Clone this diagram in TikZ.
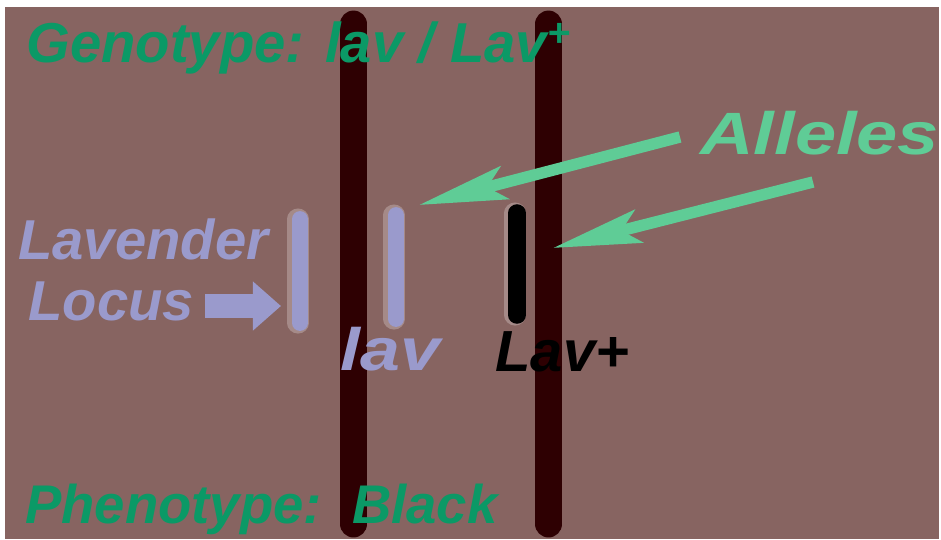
\documentclass[tikz,border=0pt]{standalone}
\usepackage{fontspec}
\setmainfont{Liberation Sans}
\usetikzlibrary{arrows.meta}
\definecolor{bgbrown}{HTML}{876461}
\definecolor{chromred}{HTML}{2E0002}
\definecolor{genogreen}{HTML}{0B9966}
\definecolor{allelegreen}{HTML}{5FCC96}
\definecolor{lavcol}{HTML}{9A9ACC}
\begin{document}
\begin{tikzpicture}[x=0.02cm,y=-0.02cm,
    script/.style={font=\fontsize{32}{36}\selectfont\bfseries\itshape,inner sep=0pt,anchor=base west},
    chrom/.style={line width=15.3pt,line cap=round,color=chromred},
    locus/.style={line width=9pt,line cap=round},
    halo/.style={line width=12pt,line cap=round,color=white,opacity=0.25},
    pointer/.style={line width=6.5pt,color=allelegreen,-{Stealth[length=50pt,width=19pt,inset=10pt]}}]
  \useasboundingbox (0,0) rectangle (941,539);
  \fill[white] (0,0) rectangle (941,539);
  \fill[bgbrown] (5,7) rectangle (939,539);
  % chromosomes
  \draw[chrom] (353.5,24) -- (353.5,524);
  \draw[chrom] (548.5,24) -- (548.5,524);
  % locus bars
  \draw[halo] (298,219) -- (298,323);
  \draw[halo] (394,215) -- (394,319);
  \draw[halo] (515,213) -- (515,315);
  \draw[locus,lavcol] (300,219) coordinate (locA) -- (300,323);
  \draw[locus,lavcol] (396,215) coordinate (locB) -- (396,319);
  \draw[locus,black,line width=10pt] (517,213) coordinate (locC) -- (517,315);
  % labels
  \node[script,text=genogreen] (geno) at (26,62) {Genotype: lav / Lav\textsuperscript{+}};
  \node[script,text=allelegreen,font=\fontsize{34}{36}\selectfont\bfseries\itshape] (alleles) at (700,154) {\scalebox{1.24}[1]{Alleles}};
  \node[script,text=lavcol] (lavender) at (18,259) {Lavender};
  \node[script,text=lavcol] (locus) at (28,320) {Locus};
  \node[script,text=lavcol,font=\fontsize{34}{36}\selectfont\bfseries\itshape] (lav) at (340,370) {\scalebox{1.2}[1]{lav}};
  \node[script,text=black,font=\fontsize{33}{36}\selectfont\bfseries\itshape] (lavplus) at (495,371) {Lav+};
  \node[script,text=genogreen,font=\fontsize{31}{36}\selectfont\bfseries\itshape] (pheno) at (25,523) {Phenotype:\ \ Black};
  % arrows
  \coordinate (locusTail) at (205,306);
  \coordinate (locusTip) at (281,306);
  \draw[line width=13.6pt,lavcol,-{Triangle[length=16pt,width=27pt]}] (locusTail) -- (locusTip);
  \coordinate (tailA) at (680,137);
  \coordinate (tipA) at (419,205);
  \coordinate (tailB) at (813,182);
  \coordinate (tipB) at (553,248);
  \draw[pointer] (tailA) -- (tipA);
  \draw[pointer] (tailB) -- (tipB);
\end{tikzpicture}
\end{document}
